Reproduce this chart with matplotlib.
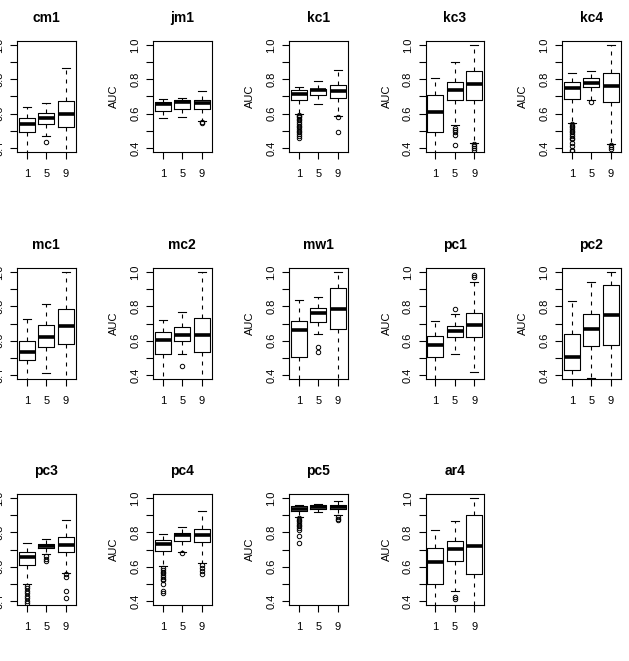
import matplotlib.pyplot as plt
import numpy as np

plt.rcParams['font.family'] = ['Liberation Sans', 'DejaVu Sans']

# one panel per data set, three boxes each (groups 1, 5, 9)
names = ["cm1", "jm1", "kc1", "kc3", "kc4",
         "mc1", "mc2", "mw1", "pc1", "pc2",
         "pc3", "pc4", "pc5", "ar4"]
groups = ["1", "5", "9"]

q1 = [[0.493, 0.538, 0.522], [0.614, 0.625, 0.629], [0.680, 0.709, 0.693],
      [0.495, 0.682, 0.682], [0.685, 0.753, 0.670],
      [0.487, 0.561, 0.578], [0.522, 0.595, 0.535], [0.503, 0.708, 0.665],
      [0.503, 0.621, 0.623], [0.427, 0.566, 0.572],
      [0.609, 0.706, 0.685], [0.694, 0.752, 0.743], [0.925, 0.938, 0.936],
      [0.501, 0.630, 0.557]]
med = [[0.542, 0.575, 0.598], [0.658, 0.670, 0.660], [0.717, 0.738, 0.732],
       [0.608, 0.738, 0.773], [0.748, 0.781, 0.761],
       [0.532, 0.623, 0.683], [0.603, 0.630, 0.634], [0.661, 0.760, 0.783],
       [0.574, 0.655, 0.689], [0.505, 0.665, 0.749],
       [0.655, 0.723, 0.729], [0.731, 0.783, 0.783], [0.936, 0.950, 0.950],
       [0.626, 0.704, 0.723]]
q3 = [[0.577, 0.602, 0.676], [0.666, 0.678, 0.680], [0.738, 0.746, 0.765],
      [0.709, 0.784, 0.850], [0.784, 0.808, 0.839],
      [0.595, 0.690, 0.787], [0.648, 0.681, 0.735], [0.717, 0.789, 0.907],
      [0.628, 0.685, 0.760], [0.638, 0.758, 0.925],
      [0.685, 0.735, 0.772], [0.754, 0.797, 0.820], [0.952, 0.957, 0.959],
      [0.706, 0.750, 0.899]]
# lower whiskers below the 0.4 floor run off the plotting region
whislo = [[0.350, 0.472, 0.350], [0.575, 0.583, 0.559], [0.598, 0.658, 0.586],
          [0.350, 0.532, 0.431], [0.548, 0.678, 0.423],
          [0.350, 0.412, 0.350], [0.350, 0.522, 0.350], [0.350, 0.636, 0.350],
          [0.350, 0.522, 0.417], [0.350, 0.381, 0.350],
          [0.497, 0.671, 0.565], [0.603, 0.686, 0.623], [0.892, 0.919, 0.903],
          [0.350, 0.458, 0.350]]
whishi = [[0.641, 0.660, 0.868], [0.685, 0.691, 0.730], [0.753, 0.792, 0.854],
          [0.810, 0.899, 1.000], [0.839, 0.849, 1.000],
          [0.727, 0.814, 0.998], [0.721, 0.770, 0.998], [0.835, 0.857, 0.998],
          [0.712, 0.758, 0.940], [0.830, 0.940, 0.998],
          [0.739, 0.764, 0.874], [0.793, 0.834, 0.927], [0.961, 0.965, 0.986],
          [0.812, 0.866, 1.000]]
fliers = [
    [[], [0.437], []],
    [[], [], [0.548, 0.553]],
    [[0.59, 0.585, 0.58, 0.57, 0.56, 0.55, 0.54, 0.53, 0.52, 0.51, 0.50,
      0.49, 0.48, 0.47, 0.455], [], [0.579, 0.495]],
    [[], [0.518, 0.505, 0.49, 0.478, 0.414], [0.42, 0.41, 0.40, 0.39]],
    [[0.54, 0.53, 0.52, 0.51, 0.50, 0.49, 0.48, 0.47, 0.46, 0.45, 0.43,
      0.41, 0.39, 0.384], [0.668], [0.415, 0.405, 0.395]],
    [[], [], []],
    [[], [0.454], []],
    [[], [0.561, 0.535], []],
    [[], [0.787], [0.985, 0.97]],
    [[], [], []],
    [[0.487, 0.475, 0.46, 0.445, 0.43, 0.415, 0.40, 0.385],
     [0.66, 0.645, 0.63], [0.555, 0.54, 0.458, 0.414]],
    [[0.594, 0.58, 0.57, 0.56, 0.55, 0.54, 0.53, 0.52, 0.50, 0.46, 0.448],
     [0.68], [0.61, 0.59, 0.575, 0.555]],
    [[0.885, 0.875, 0.865, 0.855, 0.845, 0.835, 0.825, 0.815, 0.777, 0.737],
     [], [0.89, 0.88, 0.87]],
    [[], [0.425, 0.41], []],
]

W, H = 629, 661
fig = plt.figure(figsize=(W / 100, H / 100), dpi=100)

col_left = [17, 153, 289, 425.5, 562]
row_top = [41, 268, 494]
pw, ph = 58.5, 111

for i, name in enumerate(names):
    r, c = divmod(i, 5)
    ax = fig.add_axes([col_left[c] / W, 1 - (row_top[r] + ph) / H, pw / W, ph / H])
    stats = []
    for j in range(3):
        stats.append(dict(q1=q1[i][j], med=med[i][j], q3=q3[i][j],
                          whislo=whislo[i][j], whishi=whishi[i][j],
                          fliers=fliers[i][j]))
    ax.bxp(stats, positions=[1, 2, 3], widths=0.8, capwidths=0.4,
           boxprops=dict(color='black', lw=0.8),
           medianprops=dict(color='black', lw=2.6, solid_capstyle='butt'),
           whiskerprops=dict(color='black', lw=0.8, linestyle=(0, (3.6, 4.5))),
           capprops=dict(color='black', lw=0.8),
           flierprops=dict(marker='o', markerfacecolor='none',
                           markeredgecolor='black', markersize=3.2, mew=0.7))
    ax.set_xlim(0.5, 3.5)
    ax.set_ylim(0.376, 1.024)
    ax.set_xticks([1, 2, 3])
    ax.set_xticklabels(groups)
    ax.set_yticks(np.arange(0.4, 1.01, 0.1))
    ax.set_yticklabels(["0.4", "", "0.6", "", "0.8", "", "1.0"],
                       rotation=90, va='center')
    ax.tick_params(labelsize=8, length=5, width=0.8, pad=7, colors='black')
    ax.tick_params(axis='y', pad=4)
    for s in ax.spines.values():
        s.set_linewidth(0.8)
    ax.set_title(name, fontsize=10, fontweight='bold', pad=14)
    ax.set_ylabel("AUC", fontsize=8, labelpad=8)

fig.savefig("out.png", dpi=100)
